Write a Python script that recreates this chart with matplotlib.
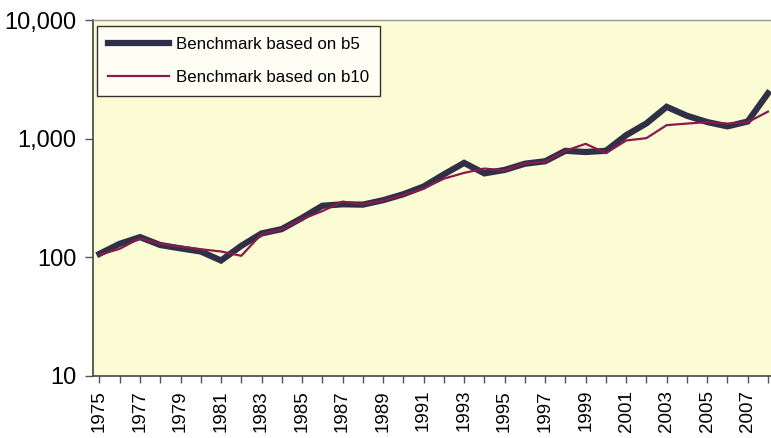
import matplotlib
matplotlib.use("Agg")
import matplotlib.pyplot as plt
from matplotlib.ticker import FixedLocator

plt.rcParams['font.family'] = ['Liberation Sans', 'DejaVu Sans']

years = list(range(1975, 2009))
b5 = [107, 130, 148, 127, 119, 112, 94, 125, 159, 173,
      215, 272, 280, 278, 303, 340, 395, 500, 625, 510,
      545, 615, 645, 790, 772, 790, 1070, 1345, 1855, 1560,
      1380, 1270, 1395, 2410]
b10 = [105, 118, 145, 130, 123, 117, 112, 103, 157, 172,
       210, 245, 295, 280, 300, 335, 380, 460, 515, 560,
       540, 620, 640, 790, 905, 755, 965, 1010, 1300, 1340,
       1380, 1340, 1375, 1690]
label_b5 = "Benchmark based on b5"
label_b10 = "Benchmark based on b10"
ytick_vals = [10, 100, 1000, 10000]
ytick_labels = ["10", "100", "1,000", "10,000"]
xtick_labels = [str(y) for y in range(1975, 2008, 2)]

fig = plt.figure(figsize=(7.71, 4.38), dpi=100)
ax = fig.add_axes([93/771, 1 - 376/438, 1 - 93/771, (376 - 20)/438])
ax.set_facecolor('#fcfcd4')

ax.plot(years, b5, color='#2f3047', lw=4.5, label=label_b5, solid_joinstyle='miter', zorder=3)
ax.plot(years, b10, color='#8a1a4e', lw=1.6, label=label_b10, zorder=4)

ax.set_yscale('log')
ax.set_ylim(10, 10000)
ax.yaxis.set_major_locator(FixedLocator(ytick_vals))
ax.set_yticklabels(ytick_labels)
ax.yaxis.set_minor_locator(FixedLocator([]))
ax.tick_params(axis='y', which='major', labelsize=17, length=6, width=1, color='#555555', pad=6)

ax.set_xlim(1974.68, 2008.15)
ax.set_xticks(years, minor=True)
ax.set_xticks(list(range(1975, 2008, 2)))
ax.set_xticklabels(xtick_labels, rotation=90)
ax.tick_params(axis='x', which='both', length=5, width=1, color='#555555', labelsize=13.5, pad=5)

for s in ['left', 'bottom']:
    ax.spines[s].set_color('#444444')
    ax.spines[s].set_linewidth(1.2)
ax.spines['top'].set_color('#999999')
ax.spines['top'].set_linewidth(1.0)
ax.spines['right'].set_visible(False)

leg = ax.legend(loc='upper left', bbox_to_anchor=(4/678, 0.982), borderaxespad=0,
                fontsize=12.2, handlelength=3.6, labelspacing=1.05, handletextpad=0.4,
                borderpad=0.65, frameon=True, fancybox=False)
leg.get_frame().set_edgecolor('#333333')
leg.get_frame().set_facecolor('#fefef4')
leg.get_frame().set_linewidth(1.0)
leg.get_frame().set_alpha(1)

fig.savefig('out.png', dpi=100)
